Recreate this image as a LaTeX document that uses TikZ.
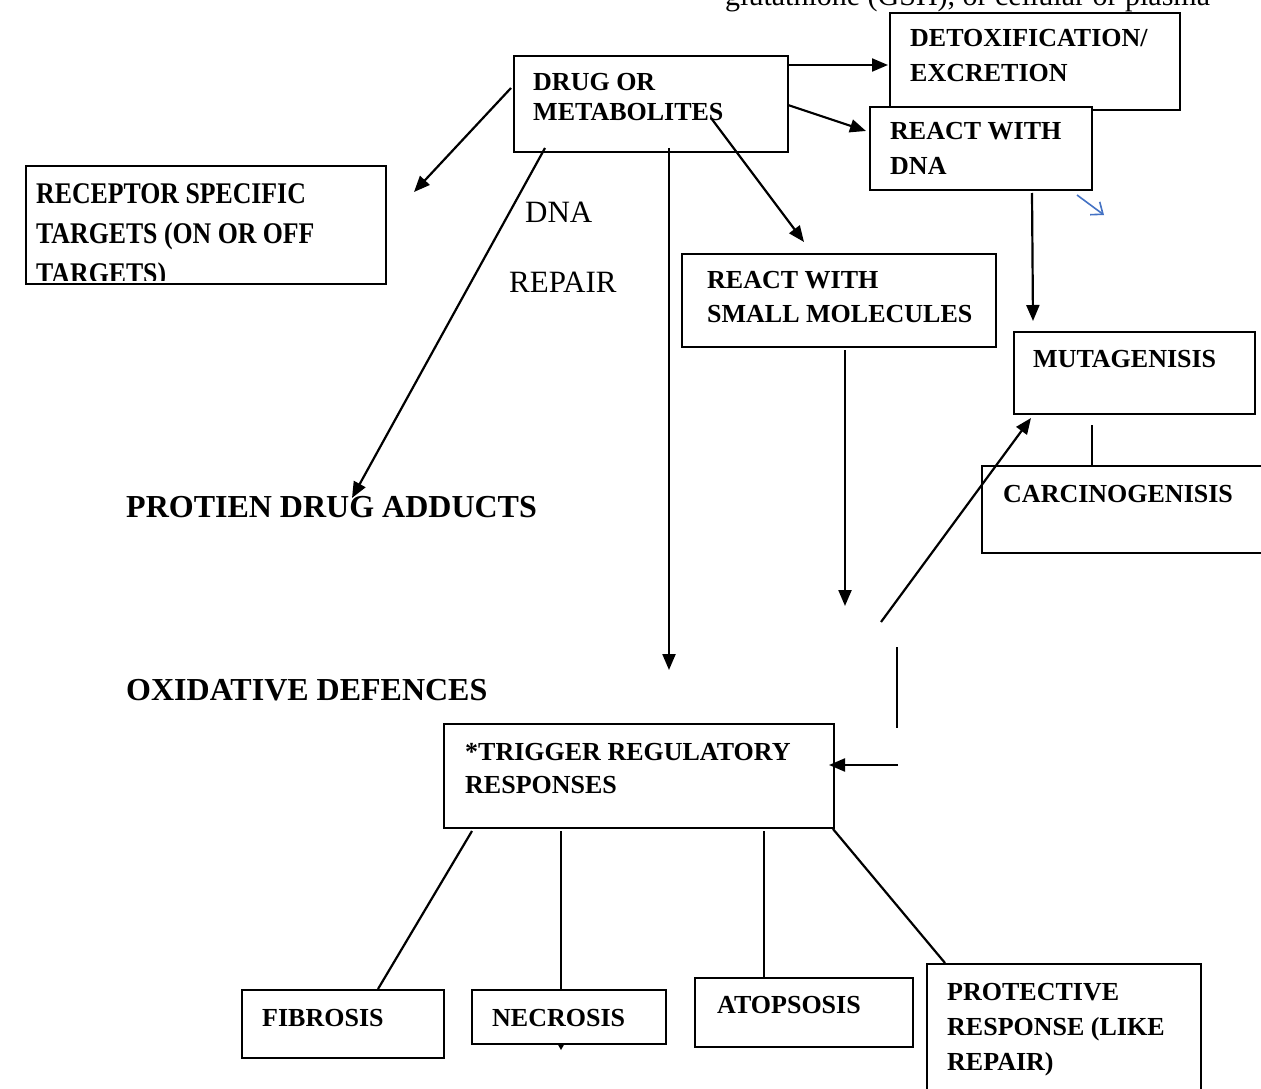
\documentclass[tikz,border=0pt]{standalone}
\usepackage{fontspec}
\setmainfont{Liberation Serif}
\newfontfamily\rcpfont{Liberation Serif}[FakeStretch=0.86]
\usetikzlibrary{arrows.meta}
\definecolor{wordblue}{HTML}{4472C4}
\tikzset{
  box/.style={draw, line width=2pt, fill=white, inner sep=0pt, anchor=north west},
  lbl/.style={anchor=base west, inner sep=0pt, font=\bfseries\fontsize{26}{30}\selectfont},
  biglbl/.style={anchor=base west, inner sep=0pt, font=\bfseries\fontsize{32}{38}\selectfont},
  reglbl/.style={anchor=base west, inner sep=0pt, font=\fontsize{31}{37}\selectfont},
  rcplbl/.style={anchor=base west, inner sep=0pt, font=\rcpfont\bfseries\fontsize{30}{40}\selectfont},
  conn/.style={line width=2.2pt},
  arr/.style={conn, -{Triangle[length=16pt,width=13pt]}},
}
\begin{document}
\begin{tikzpicture}[x=1pt,y=-1pt]
\useasboundingbox (0,0) rectangle (1261,1089);
\fill[white] (0,0) rectangle (1261,1089);
\clip (0,0) rectangle (1261,1089);

% top cut-off text
\node[anchor=base west, inner sep=0pt, font=\fontsize{30}{36}\selectfont] (gsh) at (725,6) {glutathione (GSH), or cellular or plasma};

% boxes
\node[box, minimum width=274pt, minimum height=96pt] (drug) at (513,55) {};
\node[box, minimum width=290pt, minimum height=97pt] (detox) at (889,12) {};
\node[box, minimum width=222pt, minimum height=83pt] (rdna) at (869,106) {};
\node[box, minimum width=360pt, minimum height=118pt] (rcp) at (25,165) {};
\node[box, minimum width=314pt, minimum height=93pt] (small) at (681,253) {};
\node[box, minimum width=241pt, minimum height=82pt] (mut) at (1013,331) {};
\node[box, minimum width=300pt, minimum height=87pt] (carc) at (981,465) {};
\node[box, minimum width=390pt, minimum height=104pt] (trig) at (443,723) {};
\node[box, minimum width=202pt, minimum height=68pt] (fib) at (241,989) {};
\node[box, minimum width=194pt, minimum height=54pt] (nec) at (471,989) {};
\node[box, minimum width=218pt, minimum height=69pt] (atop) at (694,977) {};
\node[box, minimum width=274pt, minimum height=150pt] (prot) at (926,963) {};

% box texts
\node[lbl] (drugA) at (533,91) {DRUG OR};
\node[lbl] (drugB) at (533,121) {METABOLITES};
\node[lbl] (detoxA) at (910,47) {DETOXIFICATION/};
\node[lbl] (detoxB) at (910,82) {EXCRETION};
\node[lbl] (rdnaA) at (890,140) {REACT WITH};
\node[lbl] (rdnaB) at (890,175) {DNA};
\begin{scope}
  \clip (25,165) rectangle (385,280);
  \node[rcplbl] (rcpA) at (36,203) {RECEPTOR SPECIFIC};
  \node[rcplbl] (rcpB) at (36,243) {TARGETS (ON OR OFF};
  \node[rcplbl] (rcpC) at (36,283) {TARGETS)};
\end{scope}
\node[lbl] (smallA) at (707,288) {REACT WITH};
\node[lbl] (smallB) at (707,322) {SMALL MOLECULES};
\node[lbl] (mutA) at (1033,367) {MUTAGENISIS};
\node[lbl] (carcA) at (1003,502) {CARCINOGENISIS};
\node[lbl] (trigA) at (465,760) {*TRIGGER REGULATORY};
\node[lbl] (trigB) at (465,793) {RESPONSES};
\node[lbl] (fibA) at (262,1026) {FIBROSIS};
\node[lbl] (necA) at (492,1026) {NECROSIS};
\node[lbl] (atopA) at (717,1013) {ATOPSOSIS};
\node[lbl] (protA) at (947,1000) {PROTECTIVE};
\node[lbl] (protB) at (947,1035) {RESPONSE (LIKE};
\node[lbl] (protC) at (947,1070) {REPAIR)};

% free texts
\node[reglbl] (dnaT) at (525,222) {DNA};
\node[reglbl] (repT) at (509,292) {REPAIR};
\node[biglbl] (adducts) at (126,517) {PROTIEN DRUG ADDUCTS};
\node[biglbl] (oxid) at (126,700) {OXIDATIVE DEFENCES};

% connector end points
\coordinate (c1a) at (788,65);   \coordinate (c1b) at (888,65);
\coordinate (c2a) at (788,105);  \coordinate (c2b) at (866,131);
\coordinate (c3a) at (711,118);  \coordinate (c3b) at (804,242);
\coordinate (c4a) at (511,88);   \coordinate (c4b) at (414,192);
\coordinate (c5a) at (545,148);  \coordinate (c5b) at (352,498);
\coordinate (c6a) at (669,148);  \coordinate (c6b) at (669,670);
\coordinate (c7a) at (1032,193); \coordinate (c7b) at (1033,321);
\coordinate (c8a) at (1092,425); \coordinate (c8b) at (1092,465);
\coordinate (c9a) at (845,350);  \coordinate (c9b) at (845,606);
\coordinate (c10a) at (881,622); \coordinate (c10b) at (1031,418);
\coordinate (c11a) at (897,647); \coordinate (c11b) at (897,728);
\coordinate (c12a) at (898,765); \coordinate (c12b) at (829,765);
\coordinate (c13a) at (472,831); \coordinate (c13b) at (378,989);
\coordinate (c14a) at (561,831); \coordinate (c14b) at (561,989);
\coordinate (c15a) at (764,831); \coordinate (c15b) at (764,977);
\coordinate (c16a) at (833,829); \coordinate (c16b) at (945,963);
\coordinate (bla) at (1077,195); \coordinate (blb) at (1104,215);

% connectors
\draw[arr] (c1a) -- (c1b);
\draw[arr] (c2a) -- (c2b);
\draw[arr] (c3a) -- (c3b);
\draw[arr] (c4a) -- (c4b);
\draw[arr] (c5a) -- (c5b);
\draw[arr] (c6a) -- (c6b);
\draw[arr] (c7a) -- (c7b);
\draw[conn] (c8a) -- (c8b);
\draw[arr] (c9a) -- (c9b);
\draw[arr] (c10a) -- (c10b);
\draw[conn] (c11a) -- (c11b);
\draw[arr] (c12a) -- (c12b);
\draw[conn] (c13a) -- (c13b);
\draw[conn] (c14a) -- (c14b);
\draw[conn] (c15a) -- (c15b);
\draw[conn] (c16a) -- (c16b);
\fill (557,1043) -- (565,1043) -- (561,1050) -- cycle;
\draw[wordblue, line width=1.6pt, -{Straight Barb[length=10pt,width=16pt]}] (bla) -- (blb);
\end{tikzpicture}
\end{document}
